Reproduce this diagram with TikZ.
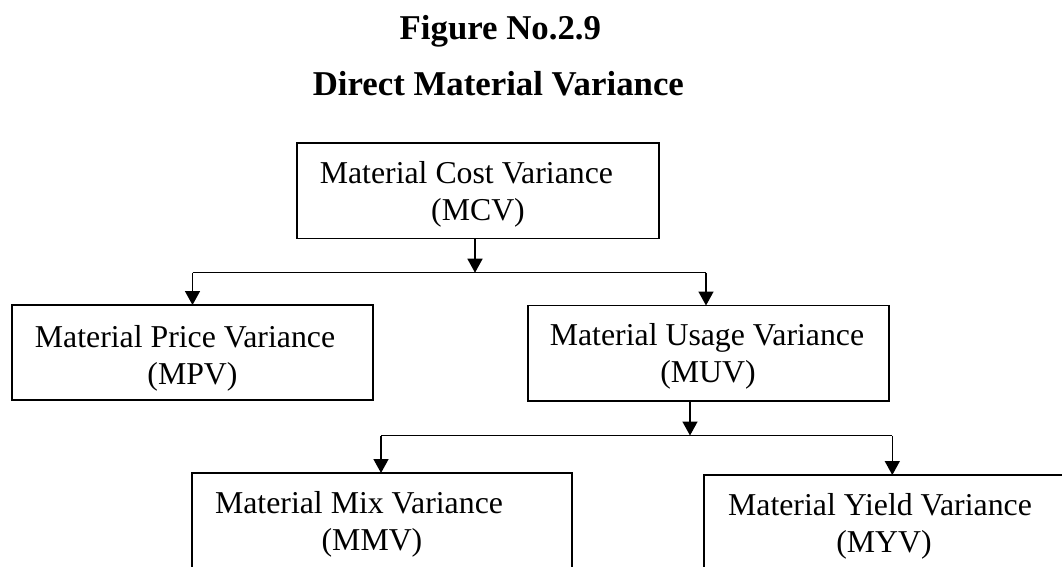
\documentclass[tikz,border=0pt]{standalone}
\usepackage{fontspec}
\setmainfont{Liberation Serif}
\usetikzlibrary{arrows.meta}

\begin{document}
\begin{tikzpicture}[x=1pt, y=-1pt,
  box/.style={draw, line width=1.8pt, inner sep=0pt, outer sep=0pt},
  txt/.style={inner sep=0pt, anchor=base, font=\fontsize{31.8}{37}\selectfont},
  ttl/.style={inner sep=0pt, anchor=base, font=\bfseries\fontsize{34.8}{40}\selectfont},
  conn/.style={line width=1.5pt},
  arr/.style={conn, -{Triangle[width=15pt, length=14pt]}}]

\useasboundingbox (0,0) rectangle (1062,566);

% headings
\node[ttl] (t1) at (500.4, 39.3) {Figure No.2.9};
\node[ttl] (t2) at (498.3, 95) {Direct Material Variance};

% boxes
\node[box, minimum width=362pt, minimum height=95.5pt] (mcv) at (478, 190.75) {};
\node[box, minimum width=361pt, minimum height=95pt]   (mpv) at (192.5, 352.5) {};
\node[box, minimum width=361pt, minimum height=95.5pt] (muv) at (708.5, 353.25) {};
\node[box, minimum width=380pt, minimum height=127pt]  (mmv) at (382, 536.5) {};
\node[box, minimum width=360pt, minimum height=125pt]  (myv) at (884, 537.5) {};

% labels
\node[txt] (mcv1) at (466.4, 183.5) {Material Cost Variance};
\node[txt] (mcv2) at (478, 220.5) {(MCV)};
\node[txt] (mpv1) at (185, 347) {Material Price Variance};
\node[txt] (mpv2) at (192.5, 384) {(MPV)};
\node[txt] (muv1) at (707, 345) {Material Usage Variance};
\node[txt] (muv2) at (708, 382) {(MUV)};
\node[txt] (mmv1) at (359, 513) {Material Mix Variance};
\node[txt] (mmv2) at (372, 550) {(MMV)};
\node[txt] (myv1) at (880, 515) {Material Yield Variance};
\node[txt] (myv2) at (884, 552) {(MYV)};

% first split
\coordinate (j1)  at (475, 272.7);
\coordinate (j1l) at (192.5, 272.7);
\coordinate (j1r) at (706, 272.7);
\draw[arr]  (mcv.south -| j1) -- (j1);
\draw[conn] (j1l) -- (j1r);
\draw[arr]  (j1l) -- (mpv.north);
\draw[arr]  (j1r) -- (j1r |- muv.north);

% second split
\coordinate (j2)  at (690, 435.5);
\coordinate (j2l) at (381, 435.5);
\coordinate (j2r) at (892.3, 435.5);
\draw[arr]  (muv.south -| j2) -- (j2);
\draw[conn] (j2l) -- (j2r);
\draw[arr]  (j2l) -- (j2l |- mmv.north);
\draw[arr]  (j2r) -- (j2r |- myv.north);
\end{tikzpicture}
\end{document}
